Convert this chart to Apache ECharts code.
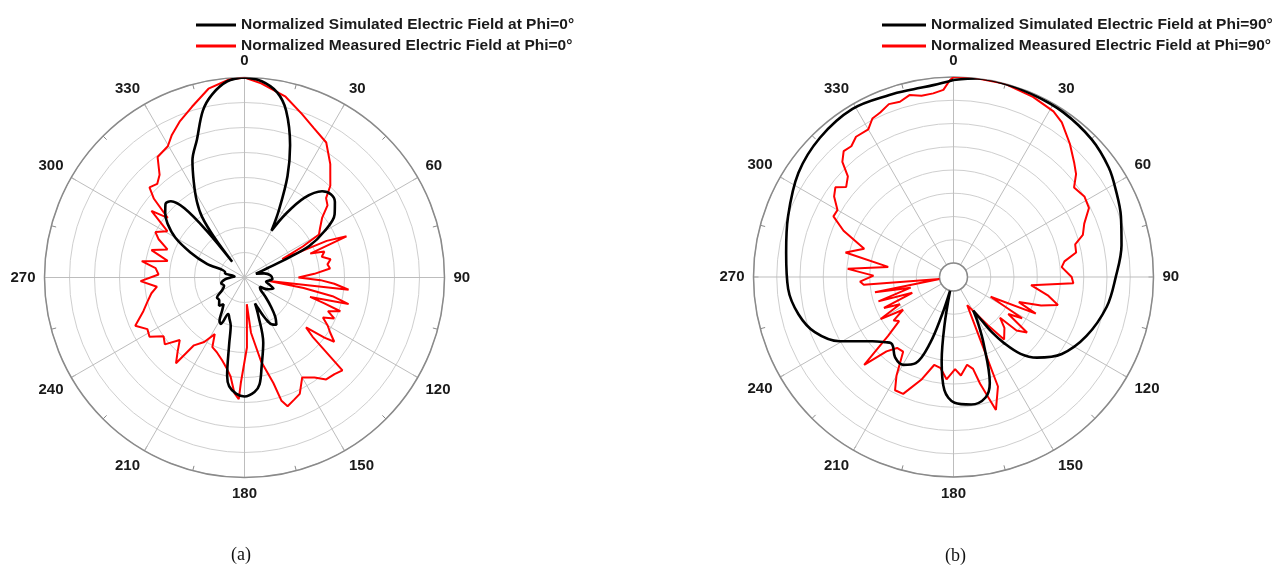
<!DOCTYPE html>
<html>
<head>
<meta charset="utf-8">
<script src="https://cdn.jsdelivr.net/npm/echarts@6/dist/echarts.min.js"></script>
<style>
  html, body { margin: 0; padding: 0; background: #fff; }
  #chart { width: 1288px; height: 569px; }
</style>
</head>
<body>
<div id="chart"></div>
<script>
// Angle tick labels (degrees)
const angleTicks = [0, 30, 60, 90, 120, 150, 180, 210, 240, 270, 300, 330];

// (a) Phi = 0 deg, normalized field (1 = outer circle)
const simAngle0 = [0, 5, 10, 14, 19, 23, 27, 30, 33, 37, 42, 46, 50, 55, 60, 64, 66, 68, 72, 78, 85, 93, 101, 106, 111, 117, 121, 127, 133, 138, 142, 146, 150, 153, 156, 158, 160, 164, 169, 172, 175, 180, 184, 188, 190, 193, 196, 200, 204, 207, 210, 214, 218, 222, 228, 234, 240, 248, 256, 264, 270, 276, 282, 285, 290, 295, 300, 305, 309, 313, 316, 319, 321, 322, 323, 325, 328, 332, 336, 341, 346, 350, 355, 360];
const simField0 = [1.0, 0.985, 0.94, 0.86, 0.7, 0.55, 0.38, 0.27, 0.38, 0.5, 0.58, 0.6, 0.59, 0.55, 0.46, 0.36, 0.23, 0.12, 0.06, 0.1, 0.13, 0.14, 0.11, 0.13, 0.155, 0.13, 0.09, 0.1, 0.145, 0.2, 0.25, 0.285, 0.27, 0.23, 0.17, 0.14, 0.2, 0.34, 0.45, 0.54, 0.575, 0.595, 0.583, 0.55, 0.5, 0.34, 0.25, 0.22, 0.2, 0.26, 0.25, 0.2, 0.17, 0.19, 0.17, 0.17, 0.13, 0.11, 0.12, 0.1, 0.07, 0.05, 0.1, 0.1, 0.2, 0.3, 0.4, 0.47, 0.51, 0.54, 0.53, 0.46, 0.3, 0.1, 0.25, 0.37, 0.45, 0.54, 0.64, 0.73, 0.86, 0.93, 0.985, 1.0];

const measAngle0 = [0, 4.9, 12.8, 19.3, 25, 31.2, 37.1, 43.1, 45.8, 49, 52.5, 57, 60, 62, 64, 66, 68, 70, 72, 75, 78, 81, 84, 87, 90, 92, 94, 96.7, 98, 100, 102, 104.3, 106.5, 108, 109.4, 112, 114.5, 117, 120, 122.8, 125.6, 127, 129, 131, 133.5, 137, 141.3, 145, 150, 154.6, 158, 161.5, 163.3, 164.7, 168.8, 173.3, 175, 178, 182, 182.7, 185, 188, 191, 195, 200, 204.8, 207.7, 212, 216.7, 218.6, 222, 226, 230, 234, 238, 242, 246.2, 251.6, 256, 260.4, 264, 268, 272, 276, 279, 282.2, 286.4, 290, 294, 297, 301, 305.6, 307.8, 311, 313.5, 317, 320.4, 324.2, 329.7, 333, 337.6, 342.9, 349.2, 355.4, 360];
const measField0 = [1.0, 0.974, 0.927, 0.867, 0.823, 0.789, 0.711, 0.628, 0.569, 0.55, 0.489, 0.45, 0.43, 0.33, 0.21, 0.45, 0.55, 0.35, 0.42, 0.4, 0.44, 0.42, 0.43, 0.35, 0.27, 0.38, 0.45, 0.524, 0.125, 0.3, 0.45, 0.537, 0.342, 0.42, 0.508, 0.45, 0.493, 0.44, 0.48, 0.51, 0.552, 0.5, 0.396, 0.45, 0.675, 0.66, 0.653, 0.61, 0.577, 0.644, 0.66, 0.679, 0.644, 0.547, 0.428, 0.278, 0.134, 0.35, 0.528, 0.609, 0.58, 0.5, 0.464, 0.43, 0.4, 0.383, 0.32, 0.38, 0.423, 0.549, 0.5, 0.45, 0.52, 0.5, 0.56, 0.55, 0.597, 0.533, 0.5, 0.472, 0.44, 0.52, 0.43, 0.447, 0.52, 0.393, 0.485, 0.41, 0.47, 0.5, 0.45, 0.572, 0.486, 0.6, 0.655, 0.64, 0.666, 0.743, 0.76, 0.8, 0.846, 0.893, 0.961, 0.992, 1.0];

// (b) Phi = 90 deg, normalized field (0 = inner hole, 1 = outer circle)
const simAngle90 = [0, 7, 14.7, 23.2, 33.6, 45.2, 54.8, 62, 70.1, 79.3, 90.3, 101, 113.9, 125.4, 134, 138.9, 142.6, 145.2, 147, 149.5, 152, 155.6, 161.1, 165.1, 172.1, 179.5, 184.6, 188, 190.6, 194, 197, 199.5, 203.7, 209.8, 216, 221, 223.4, 226, 231.6, 240.6, 248.3, 256.5, 265.9, 278.3, 290.1, 303.9, 316.2, 329, 340.6, 348, 354, 360];
const simField90 = [0.984, 1.0, 1.0, 0.995, 0.989, 0.973, 0.946, 0.914, 0.882, 0.844, 0.796, 0.764, 0.707, 0.639, 0.549, 0.473, 0.372, 0.286, 0.205, 0.134, 0.205, 0.315, 0.527, 0.595, 0.617, 0.601, 0.535, 0.382, 0.187, 0.0, 0.14, 0.302, 0.43, 0.469, 0.459, 0.42, 0.414, 0.43, 0.481, 0.628, 0.727, 0.782, 0.816, 0.834, 0.872, 0.929, 0.962, 0.979, 0.962, 0.957, 0.962, 0.984];

const measAngle90 = [0, 6.6, 14.6, 23.8, 31.1, 35, 41.2, 46.4, 50, 53.4, 58.4, 63, 67.8, 72, 75, 78.7, 82, 84.8, 90, 93, 96, 101, 105, 108, 111, 114, 118, 121, 124, 127, 130.3, 131.2, 135, 141, 144.6, 148, 154, 157.9, 162.3, 166, 168, 171.2, 175.7, 179, 183.9, 188, 192.4, 197.2, 203.3, 207.3, 210, 214, 218.5, 222, 225.5, 228, 231, 234, 237, 240, 243, 246, 249, 252, 256, 259, 262, 265, 267.2, 271, 274.4, 278.8, 282.8, 287.5, 292.8, 296.8, 300, 304, 307.2, 310, 313.6, 316, 318.9, 322, 325.2, 330, 332.9, 336, 339.5, 343, 346.4, 350, 353.7, 356.9, 359, 360];
const measField90 = [1.0, 1.0, 1.0, 0.983, 0.965, 0.94, 0.875, 0.82, 0.785, 0.732, 0.751, 0.742, 0.684, 0.656, 0.602, 0.597, 0.527, 0.509, 0.56, 0.57, 0.344, 0.441, 0.506, 0.42, 0.301, 0.409, 0.151, 0.355, 0.28, 0.42, 0.369, 0.257, 0.312, 0.357, 0.241, 0.162, 0.093, 0.56, 0.675, 0.516, 0.43, 0.402, 0.456, 0.42, 0.476, 0.42, 0.409, 0.5, 0.609, 0.61, 0.538, 0.409, 0.412, 0.463, 0.598, 0.398, 0.301, 0.323, 0.248, 0.377, 0.248, 0.334, 0.162, 0.349, 0.162, 0.355, 0.0, 0.409, 0.428, 0.355, 0.495, 0.28, 0.52, 0.428, 0.566, 0.648, 0.645, 0.699, 0.722, 0.678, 0.709, 0.785, 0.823, 0.817, 0.843, 0.841, 0.882, 0.893, 0.917, 0.91, 0.931, 0.914, 0.918, 0.932, 0.984, 1.0];

const names = {
  sim0: 'Normalized Simulated Electric Field at Phi=0°',
  meas0: 'Normalized Measured Electric Field at Phi=0°',
  sim90: 'Normalized Simulated Electric Field at Phi=90°',
  meas90: 'Normalized Measured Electric Field at Phi=90°'
};

const FONT = '"Liberation Sans", Arial, sans-serif';
const pairs = (ang, val) => ang.map((a, i) => [val[i], a]);

function angleAxis(idx) {
  return {
    polarIndex: idx,
    type: 'value',
    min: 0, max: 360, interval: 30,
    startAngle: 90, clockwise: true,
    axisLine: { lineStyle: { color: '#8a8a8a', width: 1.5 } },
    axisTick: { show: true, inside: true, length: 5, lineStyle: { color: '#8a8a8a' } },
    minorTick: { show: true, splitNumber: 2, length: 5, lineStyle: { color: '#8a8a8a' } },
    splitLine: { show: true, lineStyle: { color: '#bdbdbd', width: 1 } },
    axisLabel: {
      margin: 9,
      color: '#1a1a1a', fontSize: 15, fontWeight: 'bold', fontFamily: FONT,
      formatter: v => (angleTicks.indexOf(v) >= 0 ? String(v) : '')
    }
  };
}
function radiusAxis(idx) {
  return {
    polarIndex: idx,
    type: 'value', min: 0, max: 1, interval: 0.125,
    axisLine: { show: false }, axisTick: { show: false }, axisLabel: { show: false },
    splitLine: { show: true, lineStyle: { color: '#cfcfcf', width: 1 } }
  };
}
function legend(left, width, list) {
  return {
    left: left, top: 17, padding: 0, orient: 'vertical', itemGap: 5,
    itemWidth: width, itemHeight: 3, icon: 'rect',
    data: list,
    textStyle: { color: '#1a1a1a', fontSize: 15.5, fontWeight: 'bold', fontFamily: FONT }
  };
}
function series(name, idx, ang, val, color, width, smooth) {
  return {
    name: name, type: 'line', coordinateSystem: 'polar', polarIndex: idx,
    data: pairs(ang, val), showSymbol: false, smooth: smooth,
    lineStyle: { color: color, width: width }, itemStyle: { color: color },
    animation: false
  };
}

const chart = echarts.init(document.getElementById('chart'));
chart.setOption({
  backgroundColor: '#fff',
  animation: false,
  polar: [
    { center: [244.5, 277.5], radius: 200 },
    { center: [953.5, 277], radius: [14, 200] }
  ],
  angleAxis: [angleAxis(0), angleAxis(1)],
  radiusAxis: [radiusAxis(0), radiusAxis(1)],
  legend: [legend(196, 40, [names.sim0, names.meas0]), legend(882, 44, [names.sim90, names.meas90])],
  series: [
    series(names.meas0, 0, measAngle0, measField0, '#ff0000', 2, false),
    series(names.sim0, 0, simAngle0, simField0, '#000000', 2.6, 0.35),
    series(names.meas90, 1, measAngle90, measField90, '#ff0000', 2, false),
    series(names.sim90, 1, simAngle90, simField90, '#000000', 2.6, 0.35)
  ],
  graphic: [
    { type: 'text', left: 231, top: 546, style: { text: '(a)', font: '18px "Liberation Serif", serif', fill: '#111' } },
    { type: 'text', left: 945, top: 547, style: { text: '(b)', font: '18px "Liberation Serif", serif', fill: '#111' } }
  ]
});
</script>
</body>
</html>
